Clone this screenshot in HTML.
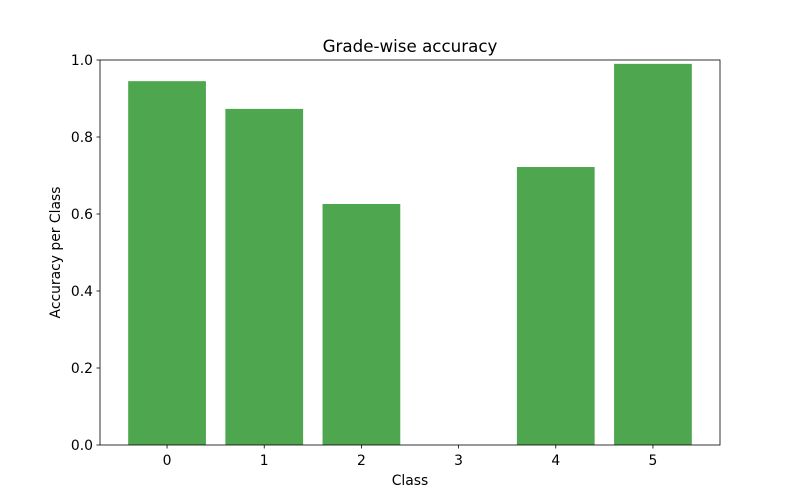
<!DOCTYPE html>
<html><head><meta charset="utf-8"><style>
body{margin:0;background:#fff;}
svg{display:block;font-family:"DejaVu Sans","Liberation Sans",sans-serif;}
</style></head><body>
<svg id="chart" width="800" height="500"></svg>
<script>
const categories=["0","1","2","3","4","5"];
const accuracy=[0.945,0.873,0.626,0,0.722,0.99];
const yTicks=[0,0.2,0.4,0.6,0.8,1.0];
const yTickLabels=["0.0","0.2","0.4","0.6","0.8","1.0"];
const L=100,R=720,T=60,B=445;
const xmin=-0.69,xmax=5.69;
const xs=v=>L+(v-xmin)/(xmax-xmin)*(R-L);
const ys=v=>B-v*(B-T);
const NS="http://www.w3.org/2000/svg";
const svg=document.getElementById('chart');
function mk(t,a,txt){const e=document.createElementNS(NS,t);for(const k in a)e.setAttribute(k,a[k]);if(txt!==undefined)e.textContent=txt;svg.appendChild(e);return e;}
accuracy.forEach((v,i)=>{
  const r=mk('rect',{x:xs(i-0.4),y:ys(v),width:xs(i+0.4)-xs(i-0.4),height:B-ys(v),fill:'#4ea64e'});
  
  
});
categories.forEach((c,i)=>{
  const x=xs(i);
  mk('line',{x1:x,x2:x,y1:B,y2:B+3.5,stroke:'#000','stroke-width':0.8});
  const t=mk('text',{x:x,y:B+20,'text-anchor':'middle','font-size':13.9},c);
  
  
});
yTicks.forEach((v,i)=>{
  const y=ys(v);
  mk('line',{x1:L-3.5,x2:L,y1:y,y2:y,stroke:'#000','stroke-width':0.8});
  const t=mk('text',{x:L-7,y:y+5,'text-anchor':'end','font-size':13.9},yTickLabels[i]);
  
  
});
const f=mk('rect',{x:L,y:T,width:R-L,height:B-T,fill:'none',stroke:'#000','stroke-width':0.8});


const ti=mk('text',{x:(L+R)/2,y:T-8,'text-anchor':'middle','font-size':16.7},'Grade-wise accuracy');


const xt=mk('text',{x:(L+R)/2,y:485,'text-anchor':'middle','font-size':13.9},'Class');


const yt=mk('text',{x:60,y:(T+B)/2,'text-anchor':'middle','font-size':13.9,transform:'rotate(-90 60 '+((T+B)/2)+')'},'Accuracy per Class');


</script>
</body></html>
